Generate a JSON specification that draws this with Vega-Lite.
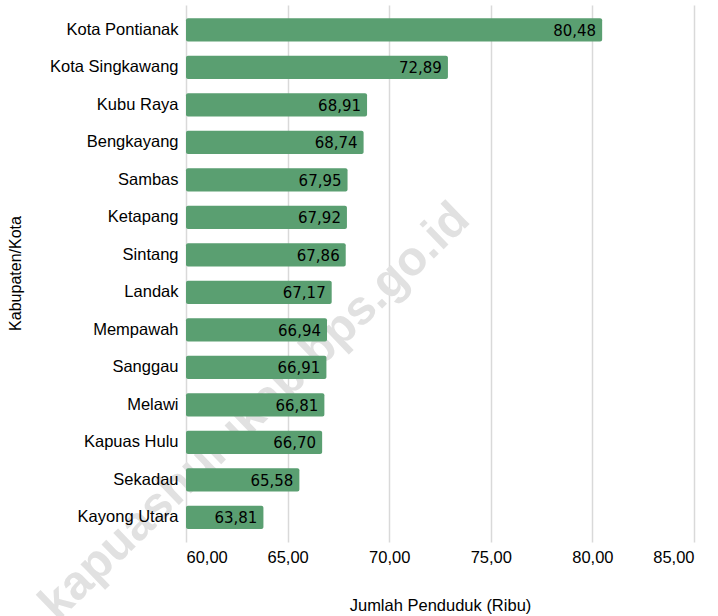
{
  "$schema": "https://vega.github.io/schema/vega-lite/v6.json",
  "width": 508,
  "height": 537,
  "autosize": {"type": "none"},
  "padding": {"left": 186, "top": 5, "right": 24, "bottom": 74},
  "config": {
    "view": {"stroke": null},
    "locale": {"number": {"decimal": ",", "thousands": ".", "grouping": [3], "currency": ["", ""]}},
    "axis": {"labelFont": "Liberation Sans", "titleFont": "Liberation Sans", "labelColor": "#000000", "titleColor": "#000000", "titleFontWeight": "normal"}
  },
  "datasets": {
    "main": [
      {"wilayah": "Kota Pontianak", "jumlah": 80.48},
      {"wilayah": "Kota Singkawang", "jumlah": 72.89},
      {"wilayah": "Kubu Raya", "jumlah": 68.91},
      {"wilayah": "Bengkayang", "jumlah": 68.74},
      {"wilayah": "Sambas", "jumlah": 67.95},
      {"wilayah": "Ketapang", "jumlah": 67.92},
      {"wilayah": "Sintang", "jumlah": 67.86},
      {"wilayah": "Landak", "jumlah": 67.17},
      {"wilayah": "Mempawah", "jumlah": 66.94},
      {"wilayah": "Sanggau", "jumlah": 66.91},
      {"wilayah": "Melawi", "jumlah": 66.81},
      {"wilayah": "Kapuas Hulu", "jumlah": 66.70},
      {"wilayah": "Sekadau", "jumlah": 65.58},
      {"wilayah": "Kayong Utara", "jumlah": 63.81}
    ],
    "wm": [
      {"wilayah": "Melawi", "jumlah": 63.05, "teks": "kapuashulukab.bps.go.id"}
    ]
  },
  "encoding": {
    "y": {
      "field": "wilayah", "type": "nominal",
      "scale": {"domain": ["Kota Pontianak", "Kota Singkawang", "Kubu Raya", "Bengkayang", "Sambas", "Ketapang", "Sintang", "Landak", "Mempawah", "Sanggau", "Melawi", "Kapuas Hulu", "Sekadau", "Kayong Utara"], "paddingInner": 0.38, "paddingOuter": 0.35},
      "axis": {
        "title": "Kabupaten/Kota", "titleFontSize": 16, "titleX": -171, "titleY": 268, "titleAngle": -90, "titleBaseline": "middle", "titleAlign": "center",
        "labelFontSize": 16.5, "labelPadding": 8, "ticks": false, "domain": false, "grid": false, "zindex": 1
      }
    },
    "x": {
      "field": "jumlah", "type": "quantitative",
      "scale": {"domain": [60, 85], "nice": false, "zero": false},
      "axis": {
        "title": "Jumlah Penduduk (Ribu)", "titleFontSize": 16.5, "titleY": 63, "titleBaseline": "middle",
        "values": [60, 65, 70, 75, 80, 85], "format": ".2f",
        "labelFontSize": 16.5, "labelPadding": 7, "ticks": false, "domain": false,
        "grid": true, "gridColor": "#d9d9d9", "gridWidth": 1.5
      }
    }
  },
  "layer": [
    {
      "data": {"name": "wm"},
      "mark": {"type": "text", "font": "Liberation Sans", "fontWeight": "bold", "fontSize": 48, "angle": 316, "color": "#e1e1e1", "align": "center", "baseline": "middle", "dy": 10},
      "encoding": {
        "text": {"field": "teks"}
      }
    },
    {
      "data": {"name": "main"},
      "mark": {"type": "bar", "color": "#5a9f71", "cornerRadius": 2},
      "encoding": {
        "x2": {"datum": 60}
      }
    },
    {
      "data": {"name": "main"},
      "mark": {"type": "text", "font": "DejaVu Sans", "fontSize": 15, "align": "right", "baseline": "middle", "dx": -6, "dy": 1, "color": "#000000"},
      "encoding": {
        "text": {"field": "jumlah", "type": "quantitative", "format": ".2f"}
      }
    }
  ]
}
